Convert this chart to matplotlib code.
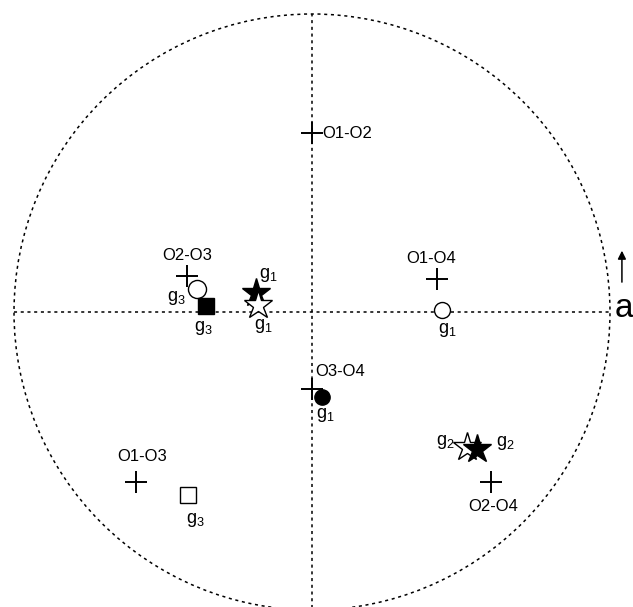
import matplotlib
matplotlib.use("Agg")
import matplotlib.pyplot as plt
from matplotlib.patches import Circle

plt.rcParams['font.family'] = ['Liberation Sans', 'DejaVu Sans']
plt.rcParams['mathtext.fontset'] = 'custom'
plt.rcParams['mathtext.rm'] = 'Liberation Sans'
plt.rcParams['mathtext.it'] = 'Liberation Sans'

# Pair positions (cross markers)
pair_names = ["O1-O2", "O2-O3", "O1-O4", "O3-O4", "O1-O3", "O2-O4"]
pair_x = [0.00, -0.42, 0.42, 0.00, -0.59, 0.60]
pair_y = [0.60, 0.12, 0.11, -0.26, -0.57, -0.57]
pair_offsets = [(10, 0), (0, 21), (-6, 21), (3, 18), (6, 25), (2, -25)]
pair_ha = ["left", "center", "center", "left", "center", "center"]

# Group positions
group_labels = ["1", "1", "3", "3", "1", "1", "2", "2", "3"]
group_x = [-0.188, -0.181, -0.386, -0.356, 0.436, 0.034, 0.520, 0.554, -0.416]
group_y = [0.064, 0.023, 0.077, 0.020, 0.007, -0.285, -0.453, -0.460, -0.614]
group_marker = ["*", "*", "o", "s", "o", "o", "*", "*", "s"]
group_filled = [True, False, False, True, False, True, False, True, False]
group_size = [21, 21, 13, 11, 11.5, 11, 21, 21, 12]
label_offsets = [(12, 18), (5, -21), (-21, -9), (-3, -22), (5, -20),
                 (3, -18), (-22, 5), (28, 6), (7, -25)]

W, H = 633, 607
cx, cy, R = 312, 312, 298

fig = plt.figure(figsize=(W / 100, H / 100), dpi=100)
ax = fig.add_axes([0, 0, 1, 1])
ax.set_xlim(-cx / R, (W - cx) / R)
ax.set_ylim(-(H - cy) / R, cy / R)
ax.axis("off")

dots = (0, (2, 2.4))
ax.add_patch(Circle((0, 0), 1.0, fill=False, lw=1.1, ls=dots, ec="black"))
ax.plot([-1, 1], [0, 0], color="black", lw=1.1, ls=dots)
ax.plot([0, 0], [-1.2, 1], color="black", lw=1.1, ls=dots)

for name, x, y, off, ha in zip(pair_names, pair_x, pair_y, pair_offsets, pair_ha):
    ax.plot(x, y, marker="+", ms=16, mew=1.4, color="black", ls="none")
    ax.annotate(name, (x, y), xytext=off, textcoords="offset pixels",
                ha=ha, va="center", fontsize=12)

for lab, x, y, m, f, s, off in zip(group_labels, group_x, group_y, group_marker,
                                   group_filled, group_size, label_offsets):
    ax.plot(x, y, marker=m, ms=s, mew=1.0, mec="black",
            mfc="black" if f else "white", ls="none")
    ax.annotate(r"$\mathregular{g_{%s}}$" % lab, (x, y), xytext=off,
                textcoords="offset pixels", ha="center", va="center",
                fontsize=13)

# Axis direction indicator
ax.annotate("", xy=(1.040, 0.215), xytext=(1.040, 0.091),
            arrowprops=dict(arrowstyle="-|>", color="black", lw=1.1,
                            mutation_scale=12), annotation_clip=False)
ax.text(1.016, 0.012, "a", fontsize=24, ha="left", va="center", clip_on=False)

fig.savefig("out.png", dpi=100)
